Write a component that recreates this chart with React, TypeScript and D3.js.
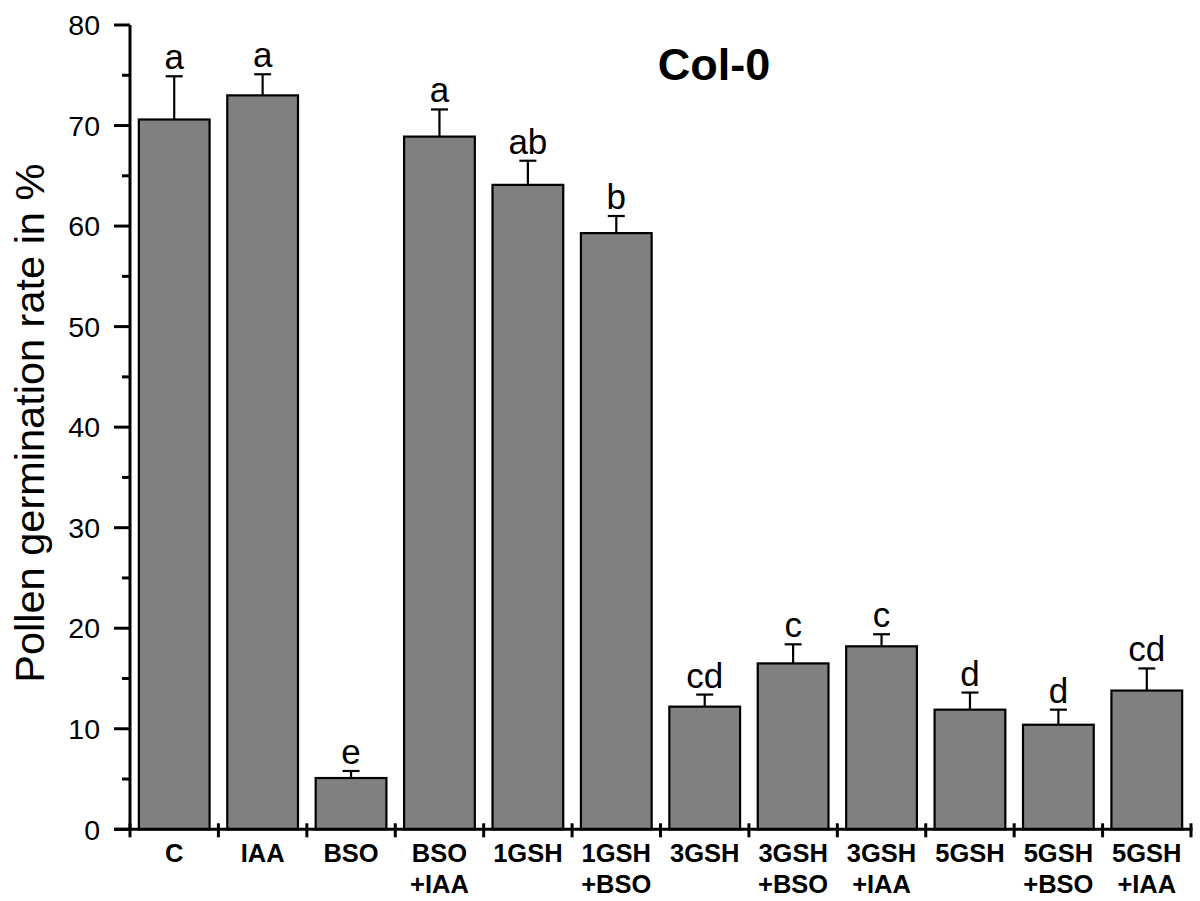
import { scaleBand, scaleLinear, range } from 'd3'

// treatments: first and second line of the x labels
const groups = ['C', 'IAA', 'BSO', 'BSO+IAA', '1GSH', '1GSH+BSO', '3GSH', '3GSH+BSO', '3GSH+IAA', '5GSH', '5GSH+BSO', '5GSH+IAA']
const labelTop = ['C', 'IAA', 'BSO', 'BSO', '1GSH', '1GSH', '3GSH', '3GSH', '3GSH', '5GSH', '5GSH', '5GSH']
const labelBottom = ['', '', '', '+IAA', '', '+BSO', '', '+BSO', '+IAA', '', '+BSO', '+IAA']

// pollen germination rate (%) and upper error
const means = [70.6, 73.0, 5.1, 68.9, 64.1, 59.3, 12.2, 16.5, 18.2, 11.9, 10.4, 13.8]
const errors = [4.3, 2.1, 0.7, 2.7, 2.4, 1.7, 1.2, 1.9, 1.2, 1.7, 1.5, 2.2]
const letters = ['a', 'a', 'e', 'a', 'ab', 'b', 'cd', 'c', 'c', 'd', 'd', 'cd']

const majorTicks = [0, 10, 20, 30, 40, 50, 60, 70, 80]
const minorTicks = [5, 15, 25, 35, 45, 55, 65, 75]

const App = () => {
  const width = 1200
  const height = 901
  const left = 130
  const right = 1191
  const top = 25
  const bottom = 829.3

  const font = '"Liberation Sans", Arial, sans-serif'

  const x = scaleBand<string>()
    .domain(groups)
    .range([left, right])
    .paddingInner(0.2)
    .paddingOuter(0.1)

  const y = scaleLinear().domain([0, 80]).range([bottom, top])

  const step = x.step()
  const bw = x.bandwidth()
  const capHalf = 8.5

  return (
    <svg width={width} height={height} style={{ position: 'absolute', left: 0, top: 0, background: '#fff' }}
      fontFamily={font}>
      {/* bars */}
      {groups.map((g, i) => (
        <rect key={g} x={x(g)} y={y(means[i])} width={bw} height={y(0) - y(means[i])}
          fill="#808080" stroke="#000" strokeWidth={2.2} />
      ))}

      {/* error bars, upper only */}
      {groups.map((g, i) => {
        const cx = (x(g) as number) + bw / 2
        const yt = y(means[i] + errors[i])
        return (
          <g key={'e' + g} stroke="#000" strokeWidth={2.2}>
            <line x1={cx} x2={cx} y1={y(means[i])} y2={yt} />
            <line x1={cx - capHalf} x2={cx + capHalf} y1={yt} y2={yt} />
          </g>
        )
      })}

      {/* significance letters */}
      {groups.map((g, i) => (
        <text key={'l' + g} x={(x(g) as number) + bw / 2} y={y(means[i] + errors[i]) - 7}
          textAnchor="middle" fontSize={35}>{letters[i]}</text>
      ))}

      {/* y axis */}
      <line x1={left} x2={left} y1={top} y2={bottom + 1.5} stroke="#000" strokeWidth={3} />
      {majorTicks.map(t => (
        <g key={'yt' + t}>
          <line x1={left - 16} x2={left} y1={y(t)} y2={y(t)} stroke="#000" strokeWidth={3} />
          <text x={100} y={y(t)} dy="0.36em" textAnchor="end" fontSize={28.5}>{t}</text>
        </g>
      ))}
      {minorTicks.map(t => (
        <line key={'ym' + t} x1={left - 8} x2={left} y1={y(t)} y2={y(t)} stroke="#000" strokeWidth={3} />
      ))}

      {/* x axis */}
      <line x1={left - 16} x2={right + 1.5} y1={bottom} y2={bottom} stroke="#000" strokeWidth={3} />
      {range(groups.length + 1).map(i => (
        <line key={'xt' + i} x1={left + i * step} x2={left + i * step} y1={bottom - 6} y2={bottom + 8}
          stroke="#000" strokeWidth={3} />
      ))}
      {groups.map((g, i) => (
        <text key={'xl' + g} textAnchor="middle" fontSize={25.5} fontWeight="bold">
          <tspan x={(x(g) as number) + bw / 2} y={862}>{labelTop[i]}</tspan>
          {labelBottom[i] && <tspan x={(x(g) as number) + bw / 2} y={893}>{labelBottom[i]}</tspan>}
        </text>
      ))}

      {/* y title */}
      <text transform={`translate(44, ${(top + bottom) / 2 - 4}) rotate(-90)`} textAnchor="middle" fontSize={41.5}>
        Pollen germination rate in %
      </text>

      {/* panel title */}
      <text x={714} y={80} textAnchor="middle" fontSize={45} fontWeight="bold">Col-0</text>
    </svg>
  )
}

export default App
